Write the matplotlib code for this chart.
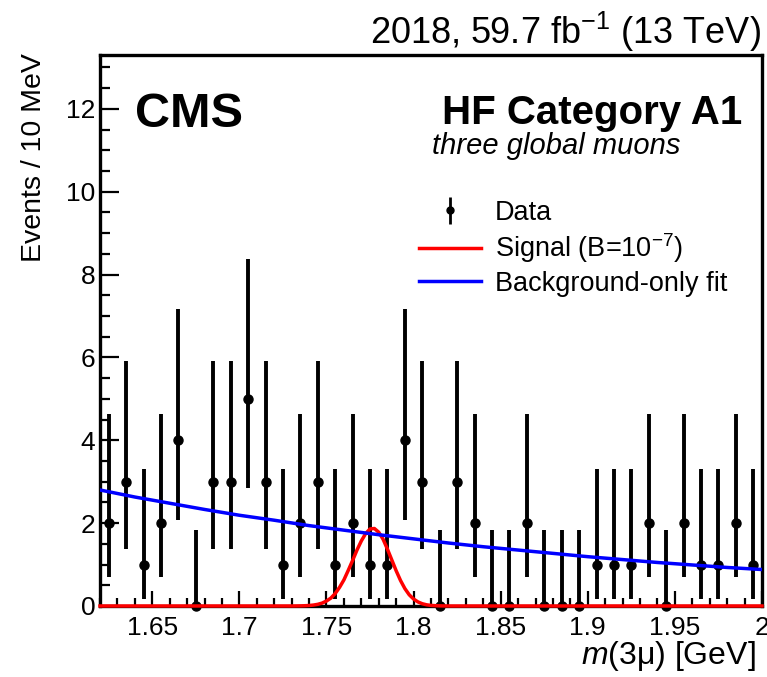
import numpy as np
import matplotlib
matplotlib.use("Agg")
import matplotlib.pyplot as plt
from matplotlib.ticker import MultipleLocator

plt.rcParams['font.family'] = ['Liberation Sans', 'DejaVu Sans']
plt.rcParams['mathtext.fontset'] = 'custom'
plt.rcParams['mathtext.rm'] = 'Liberation Sans'
plt.rcParams['mathtext.it'] = 'Liberation Sans:italic'

# data: events per 10 MeV bin
bin_centers = [1.625, 1.635, 1.645, 1.655, 1.665, 1.675, 1.685, 1.695, 1.705, 1.715,
               1.725, 1.735, 1.745, 1.755, 1.765, 1.775, 1.785, 1.795, 1.805, 1.815,
               1.825, 1.835, 1.845, 1.855, 1.865, 1.875, 1.885, 1.895, 1.905, 1.915,
               1.925, 1.935, 1.945, 1.955, 1.965, 1.975, 1.985, 1.995]
counts = [2, 3, 1, 2, 4, 0, 3, 3, 5, 3,
          1, 2, 3, 1, 2, 1, 1, 4, 3, 0,
          3, 2, 0, 0, 2, 0, 0, 0, 1, 1,
          1, 2, 0, 2, 1, 1, 2, 1]

# Garwood (Poisson) interval bounds by count
garwood_lo = {0: 0.0, 1: 0.173, 2: 0.708, 3: 1.367, 4: 2.086, 5: 2.840}
garwood_hi = {0: 1.841, 1: 3.300, 2: 4.638, 3: 5.918, 4: 7.163, 5: 8.382}

# background-only fit
bkg_x = [1.62, 1.64, 1.66, 1.68, 1.70, 1.72, 1.74, 1.76, 1.78, 1.80,
         1.82, 1.84, 1.86, 1.88, 1.90, 1.92, 1.94, 1.96, 1.98, 2.00]
bkg_y = [2.80, 2.63, 2.48, 2.33, 2.19, 2.07, 1.94, 1.83, 1.72, 1.62,
         1.52, 1.43, 1.35, 1.27, 1.19, 1.12, 1.05, 0.99, 0.93, 0.88]

# signal (B=1e-7)
sig_x = [1.62, 1.73, 1.7325, 1.735, 1.7375, 1.74, 1.7425, 1.745, 1.7475, 1.75,
         1.7525, 1.755, 1.7575, 1.76, 1.7625, 1.765, 1.7675, 1.77, 1.7725, 1.775,
         1.7775, 1.78, 1.7825, 1.785, 1.7875, 1.79, 1.7925, 1.795, 1.7975, 1.80,
         1.8025, 1.805, 1.8075, 1.81, 1.8125, 1.815, 1.8175, 1.82, 2.00]
sig_y = [0.0, 0.0, 0.001, 0.003, 0.006, 0.012, 0.022, 0.04, 0.07, 0.12,
         0.19, 0.30, 0.45, 0.63, 0.86, 1.10, 1.35, 1.57, 1.75, 1.86,
         1.87, 1.78, 1.61, 1.37, 1.11, 0.85, 0.615, 0.42, 0.27, 0.168,
         0.098, 0.054, 0.028, 0.014, 0.007, 0.003, 0.001, 0.0, 0.0]

fig = plt.figure(figsize=(7.67, 6.77), dpi=100)
ax = fig.add_axes([0.1304, 0.1049, 0.8631, 0.8139])

lo = [c - garwood_lo[c] for c in counts]
hi = [garwood_hi[c] - c for c in counts]
ax.errorbar(bin_centers, counts, yerr=[lo, hi], fmt='o', color='black',
            ms=6.5, elinewidth=2.8, capsize=0, zorder=2, clip_on=False)
sig_line, = ax.plot(sig_x, sig_y, color='red', lw=2.5, zorder=3, clip_on=False)
bkg_line, = ax.plot(bkg_x, bkg_y, color='blue', lw=2.5, zorder=3)
# legend-only handle for data (with caps, as in the original legend)
data_handle = ax.errorbar([], [], yerr=[[], []], fmt='o', color='black',
                          ms=5, elinewidth=2, capsize=4, capthick=2)

ax.set_xlim(1.62, 2.0)
ax.set_ylim(0, 13.3)
ax.xaxis.set_minor_locator(MultipleLocator(0.01))
ax.yaxis.set_major_locator(MultipleLocator(2))
ax.yaxis.set_minor_locator(MultipleLocator(0.5))
ax.set_xticks([1.65, 1.7, 1.75, 1.8, 1.85, 1.9, 1.95, 2.0])
ax.set_xticklabels(['1.65', '1.7', '1.75', '1.8', '1.85', '1.9', '1.95', '2'])
ax.tick_params(axis='both', which='both', direction='in', top=False, right=False,
               width=1.6, labelsize=19)
ax.tick_params(axis='x', which='major', length=11, pad=7)
ax.tick_params(axis='x', which='minor', length=6)
ax.tick_params(axis='y', which='major', length=14, pad=3.5)
ax.tick_params(axis='y', which='minor', length=7)
for s in ax.spines.values():
    s.set_linewidth(2.4)

ax.text(0.053, 0.869, 'CMS', transform=ax.transAxes, fontsize=35,
        fontweight='bold', ha='left', va='baseline')
ax.text(0.970, 0.875, 'HF Category A1', transform=ax.transAxes, fontsize=29,
        fontweight='bold', ha='right', va='baseline')
ax.text(0.501, 0.821, 'three global muons', transform=ax.transAxes, fontsize=21,
        style='italic', ha='left', va='baseline')
fig.text(0.992, 0.935, '2018, 59.7 fb$^{-1}$ (13 TeV)', fontsize=26,
         ha='right', va='baseline')
fig.text(0.0440, 0.9218, 'Events / 10 MeV', fontsize=20.5, rotation=90,
         ha='center', va='top')
fig.text(0.985, 0.0190, '$m$(3μ) [GeV]', fontsize=23, ha='right', va='baseline')

ax.legend([data_handle, sig_line, bkg_line],
          ['Data', 'Signal (B=10$^{-7}$)', 'Background-only fit'],
          loc='upper left', bbox_to_anchor=(0.482, 0.737), frameon=False,
          fontsize=19.5, handlelength=2.3, handletextpad=0.5, labelspacing=0.2,
          borderpad=0, borderaxespad=0)

fig.savefig('out.png', dpi=100)
